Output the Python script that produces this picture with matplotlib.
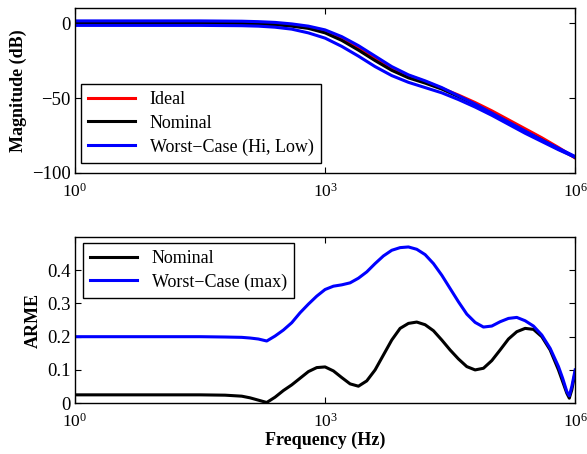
import numpy as np
import matplotlib
matplotlib.use("Agg")
import matplotlib.pyplot as plt
from matplotlib.ticker import FixedLocator, NullLocator, FixedFormatter

plt.rcParams['font.family'] = ['Liberation Serif', 'DejaVu Serif']
plt.rcParams['mathtext.fontset'] = 'custom'
plt.rcParams['mathtext.rm'] = 'Liberation Serif'
plt.rcParams['mathtext.it'] = 'Liberation Serif:italic'
plt.rcParams['mathtext.bf'] = 'Liberation Serif:bold'
plt.rcParams['font.size'] = 13

# magnitude response, log10(frequency) -> dB
mag_logf = [0, 1, 1.5, 2.0, 2.2, 2.4, 2.6, 2.8, 3.0, 3.2, 3.4, 3.6, 3.8, 4.0,
            4.2, 4.4, 4.6, 4.8, 5.0, 5.2, 5.4, 5.6, 5.8, 6.0]
mag_ideal = [0, 0, 0, -0.1, -0.3, -0.8, -1.6, -3.0, -5.5, -10, -16.5, -23.5, -30, -35,
             -39, -43.5, -48, -53, -58.5, -64.5, -70.5, -76.5, -83, -90]
mag_nominal = [0, 0, 0, -0.2, -0.5, -1.0, -2.0, -3.5, -6.5, -11.5, -18, -25, -31.5, -36.5,
               -40, -44, -49, -54.5, -60.5, -66.5, -72.5, -78, -84, -89.5]
mag_wc_hi = [1.5, 1.5, 1.5, 1.3, 1.0, 0.5, -0.5, -2.0, -4.5, -9, -15, -22, -29, -34.5,
             -38.5, -43, -48.5, -54, -60, -66, -72, -78, -83.5, -89]
mag_wc_low = [-1.5, -1.5, -1.5, -1.7, -2.0, -2.7, -4.0, -6.5, -10, -15.5, -22, -29, -35, -39.5,
              -43, -46.5, -51, -56, -61.5, -67.5, -73.5, -79, -84.5, -89.5]

# ARME, log10(frequency) -> error
arme_logf = [0, 1.0, 1.5, 1.8, 2.0, 2.1, 2.2, 2.3, 2.4, 2.5, 2.6, 2.7, 2.8, 2.9,
             3.0, 3.1, 3.2, 3.3, 3.4, 3.5, 3.6, 3.7, 3.8, 3.9, 4.0, 4.1, 4.2,
             4.3, 4.4, 4.5, 4.6, 4.7, 4.8, 4.9, 5.0, 5.1, 5.2, 5.3, 5.4, 5.5,
             5.6, 5.7, 5.8, 5.85, 5.9, 5.93, 5.96, 6.0]
arme_nominal = [0.025, 0.025, 0.025, 0.024, 0.021, 0.016, 0.009, 0.002, 0.018, 0.038, 0.055, 0.075, 0.095, 0.107,
                0.109, 0.097, 0.077, 0.058, 0.051, 0.067, 0.1, 0.145, 0.19, 0.225, 0.24, 0.244, 0.236,
                0.218, 0.19, 0.16, 0.133, 0.11, 0.1, 0.105, 0.128, 0.16, 0.193, 0.215, 0.225, 0.222,
                0.2, 0.16, 0.1, 0.065, 0.03, 0.015, 0.04, 0.093]
arme_worst = [0.2, 0.2, 0.2, 0.199, 0.198, 0.196, 0.193, 0.187, 0.202, 0.22, 0.242, 0.272, 0.298, 0.322,
              0.342, 0.352, 0.356, 0.362, 0.376, 0.395, 0.42, 0.443, 0.46, 0.468, 0.47, 0.463, 0.447,
              0.42, 0.385, 0.345, 0.305, 0.268, 0.243, 0.229, 0.232, 0.245, 0.255, 0.258, 0.248, 0.232,
              0.205, 0.165, 0.11, 0.075, 0.035, 0.022, 0.05, 0.1]

mag_f = 10 ** np.array(mag_logf)
arme_f = 10 ** np.array(arme_logf)

fig = plt.figure(figsize=(5.87, 4.54), dpi=100)
ax1 = fig.add_axes([0.1278, 0.619, 0.852, 0.363])
ax2 = fig.add_axes([0.1278, 0.112, 0.852, 0.366])

lw = 2.2
ax1.semilogx(mag_f, mag_ideal, color='#ff0000', lw=lw, label='Ideal')
ax1.semilogx(mag_f, mag_nominal, color='black', lw=lw, label='Nominal')
ax1.semilogx(mag_f, mag_wc_hi, color='#0000ff', lw=lw, label='Worst\u2212Case (Hi, Low)')
ax1.semilogx(mag_f, mag_wc_low, color='#0000ff', lw=lw)
ax1.set_ylim(-100, 10)
ax1.set_yticks([-100, -50, 0])
ax1.set_ylabel('Magnitude (dB)', fontweight='bold', fontsize=13)
ax1.legend(loc='lower left', bbox_to_anchor=(0.012, 0.06), borderaxespad=0,
           fancybox=False, edgecolor='black', framealpha=1, handlelength=2.6,
           fontsize=13, labelspacing=0.38)

ax2.semilogx(arme_f, arme_nominal, color='black', lw=lw, label='Nominal')
ax2.semilogx(arme_f, arme_worst, color='#0000ff', lw=lw, label='Worst\u2212Case (max)')
ax2.set_ylim(0, 0.5)
ax2.yaxis.set_major_locator(FixedLocator([0, 0.1, 0.2, 0.3, 0.4]))
ax2.yaxis.set_major_formatter(FixedFormatter(['0', '0.1', '0.2', '0.3', '0.4']))
ax2.set_ylabel('ARME', fontweight='bold', fontsize=13)
ax2.set_xlabel('Frequency (Hz)', fontweight='bold', fontsize=13, labelpad=1)
ax2.legend(loc='upper left', bbox_to_anchor=(0.016, 0.964), borderaxespad=0,
           fancybox=False, edgecolor='black', framealpha=1, handlelength=2.6,
           fontsize=13, labelspacing=0.35)

for ax in (ax1, ax2):
    ax.set_xlim(1, 1e6)
    ax.xaxis.set_major_locator(FixedLocator([1, 1e3, 1e6]))
    ax.xaxis.set_minor_locator(NullLocator())
    ax.tick_params(direction='in', top=True, right=True, length=4, width=0.8)
    ax.tick_params(axis='x', pad=7, labelsize=12.5)
    ax.tick_params(axis='y', pad=3, labelsize=13.5)
    for s in ax.spines.values():
        s.set_linewidth(1.0)

fig.savefig('out.png', dpi=100)
